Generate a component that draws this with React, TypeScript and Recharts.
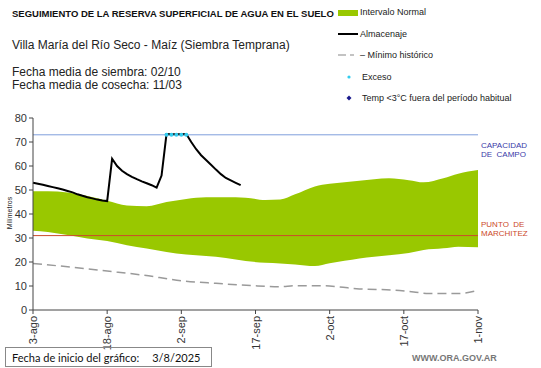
import React from "react";
import { Area, ComposedChart, Line, ReferenceLine, Scatter, XAxis, YAxis } from "recharts";

const tickDays = [0, 15, 30, 45, 60, 75, 90];
const tickLabels = ["3-ago", "18-ago", "2-sep", "17-sep", "2-oct", "17-oct", "1-nov"];
const yTicks = [0, 10, 20, 30, 40, 50, 60, 70, 80];

const bandDays = [0, 3, 7, 11, 15, 19, 23, 27, 31, 35, 39, 43, 47, 50, 53, 57, 60, 63, 66, 69, 72, 76, 79, 83, 86, 90];
const bandHigh = [49.5, 49.5, 49, 47.5, 45.5, 43.5, 43.2, 45, 46.3, 47, 47, 46.8, 45.8, 46, 48.2, 51.5, 52.6, 53.2, 53.9, 54.5, 54.9, 54.1, 53.2, 54.9, 56.8, 58.3];
const bandLow = [33, 32.5, 31.2, 29.8, 28.7, 27, 25.6, 24.2, 23.1, 22.5, 21.7, 20.4, 19.7, 19.4, 19, 18.3, 19.5, 20.5, 21.5, 22.2, 22.8, 23.8, 25, 25.7, 26.4, 26.1];

const minDays = [0, 7, 15, 22, 30, 37, 44, 50, 53, 59, 62, 66, 73, 77, 80, 86, 90];
const minVals = [19.4, 18, 16.2, 14.6, 12.2, 11.1, 10.2, 9.7, 10.1, 10.1, 9.6, 8.8, 8.3, 7.5, 6.9, 6.9, 8.2];

const storage = [
  53, 52.6, 52.2, 51.7, 51.2, 50.7, 50.2, 49.6, 49, 48.2, 47.6, 47, 46.5, 46, 45.6, 45.4, 63, 60, 58, 56.6, 55.5, 54.5,
  53.6, 52.8, 52, 51, 56, 73.3, 73.2, 73.2, 73.2, 73.3, 70, 67, 64.5, 62.5, 60.5, 58.5, 56.6, 55, 54, 53, 52,
];

const excessDays = [27, 28, 29, 30, 31];
const excessVals = [73, 73, 73, 73, 73];

const fieldCapacity = 73;
const wiltingPoint = 31;

const bandData = bandDays.map((day, i) => ({ day, range: [bandLow[i], bandHigh[i]] }));
const minData = minDays.map((day, i) => ({ day, min: minVals[i] }));
const storageData = storage.map((v, i) => ({ day: i, storage: v }));
const excessData = excessDays.map((day, i) => ({ day, excess: excessVals[i] }));

const FONT = "'Liberation Sans', Arial, sans-serif";

const XTick = (props: any) => {
  const { x, y, payload } = props;
  const idx = tickDays.indexOf(payload.value);
  const ty = y;
  return (
    <text
      x={x}
      y={ty}
      transform={`rotate(-90 ${x} ${ty})`}
      textAnchor="end"
      dominantBaseline="central"
      fontSize={11}
      fontFamily={FONT}
      fill="#333"
    >
      {tickLabels[idx]}
    </text>
  );
};

const abs = (style: React.CSSProperties): React.CSSProperties => ({
  position: "absolute",
  fontFamily: FONT,
  whiteSpace: "nowrap",
  lineHeight: 1,
  ...style,
});

export default function App() {
  return (
    <div style={{ position: "relative", width: 541, height: 368, background: "#fff", overflow: "hidden" }}>
      <style>{`body{margin:0}`}</style>
      <ComposedChart width={541} height={368} margin={{ top: 118, right: 63, left: 0, bottom: 0 }}>
        <XAxis
          dataKey="day"
          type="number"
          domain={[0, 90]}
          ticks={tickDays}
          tick={<XTick />}
          tickLine={{ stroke: "#444" }}
          tickSize={4}
          axisLine={{ stroke: "#444" }}
          height={58}
          interval={0}
        />
        <YAxis
          type="number"
          domain={[0, 80]}
          ticks={yTicks}
          width={33}
          tickSize={4}
          tick={{ fontSize: 11, fontFamily: FONT, fill: "#333" }}
          tickLine={{ stroke: "#444" }}
          axisLine={{ stroke: "#444" }}
          interval={0}
        />
        <Area
          data={bandData}
          dataKey="range"
          type="monotone"
          stroke="none"
          fill="#99c800"
          fillOpacity={1}
          isAnimationActive={false}
        />
        <ReferenceLine y={fieldCapacity} stroke="#7f9fdc" strokeWidth={1} />
        <ReferenceLine y={wiltingPoint} stroke="#cc4a2a" strokeWidth={1} />
        <Line
          data={minData}
          dataKey="min"
          type="monotone"
          stroke="#9a9a9a"
          strokeWidth={1.5}
          strokeDasharray="9 5"
          dot={false}
          isAnimationActive={false}
        />
        <Scatter
          data={excessData}
          dataKey="excess"
          fill="#33ccee"
          shape={(p: any) => <circle cx={p.cx} cy={p.cy} r={2} fill="#33ccee" />}
          isAnimationActive={false}
        />
        <Line
          data={storageData}
          dataKey="storage"
          type="linear"
          stroke="#000"
          strokeWidth={2}
          dot={false}
          isAnimationActive={false}
        />
      </ComposedChart>

      <div style={abs({ left: 12, top: 9, fontSize: 9.5, fontWeight: "bold", color: "#111" })}>
        SEGUIMIENTO DE LA RESERVA SUPERFICIAL DE AGUA EN EL SUELO
      </div>
      <div style={abs({ left: 12, top: 39, fontSize: 12, color: "#222" })}>
        Villa María del Río Seco - Maíz (Siembra Temprana)
      </div>
      <div style={abs({ left: 12, top: 66, fontSize: 12, color: "#222" })}>Fecha media de siembra: 02/10</div>
      <div style={abs({ left: 12, top: 79, fontSize: 12, color: "#222" })}>Fecha media de cosecha: 11/03</div>

      <svg style={{ position: "absolute", left: 0, top: 0 }} width={541} height={110}>
        <rect x={338} y={10} width={20} height={6} fill="#99c800" />
        <line x1={338} y1={34} x2={358} y2={34} stroke="#000" strokeWidth={2} />
        <line x1={338} y1={55} x2={346} y2={55} stroke="#9a9a9a" strokeWidth={1.2} />
        <line x1={350} y1={55} x2={354} y2={55} stroke="#9a9a9a" strokeWidth={1.2} />
        <circle cx={349} cy={77} r={1.6} fill="#33ccee" />
        <path d="M349 95.5 L351.5 98 L349 100.5 L346.5 98 Z" fill="#1a1a8c" />
      </svg>
      <div style={abs({ left: 360, top: 8, fontSize: 9, color: "#222" })}>Intervalo Normal</div>
      <div style={abs({ left: 360, top: 30, fontSize: 9, color: "#222" })}>Almacenaje</div>
      <div style={abs({ left: 360, top: 51, fontSize: 9, color: "#222" })}>– Mínimo histórico</div>
      <div style={abs({ left: 362, top: 73, fontSize: 9, color: "#222" })}>Exceso</div>
      <div style={abs({ left: 362, top: 94, fontSize: 9, color: "#222" })}>Temp &lt;3°C fuera del período habitual</div>

      <div style={abs({ left: 481, top: 141, fontSize: 8, color: "#3a3aa8", lineHeight: "9px" })}>
        CAPACIDAD
        <br />
        DE&nbsp;&nbsp;CAMPO
      </div>
      <div style={abs({ left: 481, top: 220, fontSize: 8, color: "#cc4a2a", lineHeight: "9px" })}>
        PUNTO&nbsp;&nbsp;DE
        <br />
        MARCHITEZ
      </div>

      <div
        style={abs({
          left: 3,
          top: 213,
          fontSize: 7,
          color: "#222",
          transform: "translate(-50%, -50%) rotate(-90deg)",
          transformOrigin: "center",
          marginLeft: 6,
        })}
      >
        Milímetros
      </div>

      <div
        style={abs({
          left: 5,
          top: 347,
          width: 207,
          height: 20,
          border: "1px solid #888",
          boxSizing: "border-box",
          fontSize: 11,
          fontFamily: "Lato, sans-serif",
          color: "#111",
          paddingLeft: 6,
          display: "flex",
          alignItems: "center",
        })}
      >
        Fecha de inicio del gráfico:<span style={{ marginLeft: 13 }}>3/8/2025</span>
      </div>
      <div style={abs({ left: 412, top: 354, fontSize: 9, fontWeight: "bold", color: "#777" })}>WWW.ORA.GOV.AR</div>
    </div>
  );
}
